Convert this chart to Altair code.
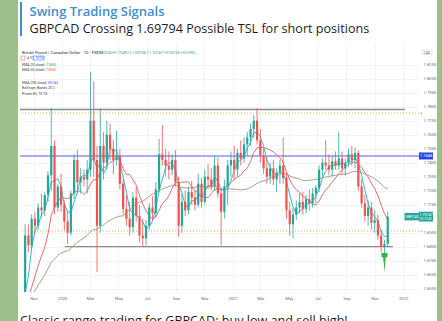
import altair as alt
import pandas as pd

# ---------------- data (weekly candles) ----------------
seed_weeks = ["2019-08-12", "2019-08-19", "2019-08-26", "2019-09-02", "2019-09-09",
              "2019-09-16", "2019-09-23", "2019-09-30"]
seed_closes = [1.6050, 1.6180, 1.6200, 1.6270, 1.6420, 1.6520, 1.6350, 1.6200]

week_start = [
    "2019-10-07", "2019-10-14", "2019-10-21", "2019-10-28", "2019-11-04", "2019-11-11", "2019-11-18", "2019-11-25",
    "2019-12-02", "2019-12-09", "2019-12-16", "2019-12-23", "2019-12-30",
    "2020-01-06", "2020-01-13", "2020-01-20", "2020-01-27", "2020-02-03", "2020-02-10", "2020-02-17", "2020-02-24",
    "2020-03-02", "2020-03-09", "2020-03-16", "2020-03-23", "2020-03-30", "2020-04-06", "2020-04-13", "2020-04-20",
    "2020-04-27", "2020-05-04", "2020-05-11", "2020-05-18", "2020-05-25", "2020-06-01", "2020-06-08", "2020-06-15",
    "2020-06-22", "2020-06-29", "2020-07-06", "2020-07-13", "2020-07-20", "2020-07-27", "2020-08-03", "2020-08-10",
    "2020-08-17", "2020-08-24", "2020-08-31", "2020-09-07", "2020-09-14", "2020-09-21", "2020-09-28", "2020-10-05",
    "2020-10-12", "2020-10-19", "2020-10-26", "2020-11-02", "2020-11-09", "2020-11-16", "2020-11-23", "2020-11-30",
    "2020-12-07", "2020-12-14", "2020-12-21", "2020-12-28",
    "2021-01-04", "2021-01-11", "2021-01-18", "2021-01-25", "2021-02-01", "2021-02-08", "2021-02-15", "2021-02-22",
    "2021-03-01", "2021-03-08", "2021-03-15", "2021-03-22", "2021-03-29", "2021-04-05", "2021-04-12", "2021-04-19",
    "2021-04-26", "2021-05-03", "2021-05-10", "2021-05-17", "2021-05-24", "2021-05-31", "2021-06-07", "2021-06-14",
    "2021-06-21", "2021-06-28", "2021-07-05", "2021-07-12", "2021-07-19", "2021-07-26", "2021-08-02", "2021-08-09",
    "2021-08-16", "2021-08-23", "2021-08-30", "2021-09-06", "2021-09-13", "2021-09-20", "2021-09-27", "2021-10-04",
    "2021-10-11", "2021-10-18", "2021-10-25", "2021-11-01", "2021-11-08", "2021-11-15", "2021-11-22", "2021-11-29",
]
opens = [
    1.6210, 1.6460, 1.6880, 1.6810, 1.7000, 1.6950, 1.7080, 1.7060,
    1.7170, 1.7310, 1.7520, 1.7080, 1.7230,
    1.7100, 1.6980, 1.6900, 1.7180, 1.7420, 1.7260, 1.7300, 1.7280,
    1.7350, 1.7700, 1.7420, 1.6950, 1.7520, 1.7400, 1.7600, 1.7500,
    1.7420, 1.7450, 1.7250, 1.7070, 1.7000, 1.6940, 1.7150, 1.7020,
    1.6880, 1.6860, 1.6950, 1.7080, 1.7040, 1.7210, 1.7460, 1.7420,
    1.7380, 1.7350, 1.7420, 1.7260, 1.6950, 1.7120, 1.7060, 1.7190,
    1.7150, 1.7100, 1.7250, 1.7120, 1.7300, 1.7280, 1.7230, 1.7380,
    1.7180, 1.7050, 1.7230, 1.7380,
    1.7420, 1.7350, 1.7470, 1.7430, 1.7530, 1.7580, 1.7640, 1.7700,
    1.7560, 1.7450, 1.7360, 1.7300, 1.7360, 1.7280, 1.7330, 1.7380,
    1.7290, 1.7060, 1.6960, 1.7030, 1.7080, 1.7120, 1.7070, 1.7140,
    1.7110, 1.7180, 1.7220, 1.7350, 1.7400, 1.7380, 1.7350, 1.7410,
    1.7380, 1.7430, 1.7360, 1.7400, 1.7460, 1.7420, 1.7470, 1.7230,
    1.7110, 1.7020, 1.7080, 1.6970, 1.6990, 1.6880, 1.6800, 1.6820,
]
highs = [
    1.6480, 1.6960, 1.6960, 1.7030, 1.7050, 1.7110, 1.7180, 1.7190,
    1.7340, 1.7790, 1.7560, 1.7250, 1.7320,
    1.7130, 1.7060, 1.7200, 1.7460, 1.7490, 1.7360, 1.7350, 1.7420,
    1.8050, 1.7980, 1.7520, 1.7790, 1.7620, 1.7700, 1.7680, 1.7560,
    1.7630, 1.7500, 1.7280, 1.7170, 1.7120, 1.7190, 1.7230, 1.7100,
    1.7000, 1.6990, 1.7110, 1.7160, 1.7260, 1.7570, 1.7670, 1.7500,
    1.7480, 1.7460, 1.7490, 1.7300, 1.7180, 1.7200, 1.7230, 1.7270,
    1.7200, 1.7320, 1.7290, 1.7350, 1.7390, 1.7360, 1.7450, 1.7440,
    1.7220, 1.7280, 1.7420, 1.7480,
    1.7520, 1.7500, 1.7560, 1.7580, 1.7620, 1.7680, 1.7740, 1.7790,
    1.7640, 1.7500, 1.7440, 1.7400, 1.7420, 1.7360, 1.7420, 1.7580,
    1.7330, 1.7120, 1.7080, 1.7130, 1.7180, 1.7190, 1.7170, 1.7210,
    1.7220, 1.7240, 1.7380, 1.7430, 1.7560, 1.7460, 1.7450, 1.7480,
    1.7620, 1.7480, 1.7430, 1.7500, 1.7520, 1.7510, 1.7490, 1.7280,
    1.7170, 1.7130, 1.7120, 1.7060, 1.7030, 1.6920, 1.6850, 1.7050,
]
lows = [
    1.6170, 1.6440, 1.6760, 1.6780, 1.6890, 1.6920, 1.7010, 1.7020,
    1.7120, 1.7200, 1.7030, 1.7050, 1.7050,
    1.6920, 1.6820, 1.6880, 1.7140, 1.7180, 1.7180, 1.7230, 1.7180,
    1.7300, 1.7300, 1.6620, 1.6900, 1.7280, 1.7350, 1.7420, 1.7320,
    1.7380, 1.7210, 1.7030, 1.6950, 1.6880, 1.6900, 1.6980, 1.6830,
    1.6800, 1.6810, 1.6920, 1.6990, 1.7010, 1.7190, 1.7380, 1.7300,
    1.7280, 1.7310, 1.7230, 1.6870, 1.6900, 1.7020, 1.7030, 1.7100,
    1.7060, 1.7080, 1.7080, 1.7100, 1.7210, 1.7200, 1.7200, 1.7150,
    1.6810, 1.7000, 1.7100, 1.7300,
    1.7280, 1.7300, 1.7380, 1.7400, 1.7450, 1.7520, 1.7580, 1.7530,
    1.7400, 1.7320, 1.7250, 1.7250, 1.7240, 1.7190, 1.7250, 1.7250,
    1.7000, 1.6880, 1.6860, 1.6990, 1.7040, 1.7030, 1.7040, 1.7060,
    1.7080, 1.7110, 1.7190, 1.7300, 1.7350, 1.7310, 1.7300, 1.7350,
    1.7350, 1.7320, 1.7310, 1.7370, 1.7380, 1.7360, 1.7200, 1.7080,
    1.6980, 1.6950, 1.6920, 1.6900, 1.6850, 1.6760, 1.6750, 1.6800,
]
closes = [
    1.6460, 1.6880, 1.6810, 1.7000, 1.6950, 1.7080, 1.7060, 1.7170,
    1.7310, 1.7520, 1.7080, 1.7230, 1.7100,
    1.6980, 1.6900, 1.7180, 1.7420, 1.7260, 1.7300, 1.7280, 1.7350,
    1.7700, 1.7420, 1.6950, 1.7520, 1.7400, 1.7600, 1.7500, 1.7420,
    1.7450, 1.7250, 1.7070, 1.7000, 1.6940, 1.7150, 1.7020, 1.6880,
    1.6860, 1.6950, 1.7080, 1.7040, 1.7210, 1.7460, 1.7420, 1.7380,
    1.7350, 1.7420, 1.7260, 1.6950, 1.7120, 1.7060, 1.7190, 1.7150,
    1.7100, 1.7250, 1.7120, 1.7300, 1.7280, 1.7230, 1.7380, 1.7180,
    1.7050, 1.7230, 1.7380, 1.7420,
    1.7350, 1.7470, 1.7430, 1.7530, 1.7580, 1.7640, 1.7700, 1.7560,
    1.7450, 1.7360, 1.7300, 1.7360, 1.7280, 1.7330, 1.7380, 1.7290,
    1.7060, 1.6960, 1.7030, 1.7080, 1.7120, 1.7070, 1.7140, 1.7110,
    1.7180, 1.7220, 1.7350, 1.7400, 1.7380, 1.7350, 1.7410, 1.7380,
    1.7430, 1.7360, 1.7400, 1.7460, 1.7420, 1.7470, 1.7230, 1.7110,
    1.7020, 1.7080, 1.6970, 1.6990, 1.6880, 1.6800, 1.6820, 1.7015,
]

# horizontal levels drawn on the chart
solid_prices = [1.7780, 1.7448, 1.6801]
solid_from = ["2019-10-03", "2019-10-03", "2020-01-07"]
solid_to = ["2022-01-05", "2022-02-04", "2021-12-10"]
solid_colors = ["#8a8a8a", "#8f8ff5", "#8a8a8a"]
dotted_prices = [1.7755, 1.6912]

# signal arrow under the November low
arrow_date = ["2021-11-22"]
arrow_price = [1.6687]

price_ticks = [1.65, 1.66, 1.67, 1.68, 1.69, 1.71, 1.72, 1.73, 1.74, 1.75,
               1.76, 1.77, 1.78, 1.79, 1.80, 1.81]
month_ticks = [(2019, 11), (2020, 1), (2020, 3), (2020, 5), (2020, 7), (2020, 9), (2020, 11),
               (2021, 1), (2021, 3), (2021, 5), (2021, 7), (2021, 9), (2021, 11), (2022, 1)]

TITLE = "Swing Trading Signals"
SUBTITLE = "GBPCAD Crossing 1.69794 Possible TSL for short positions"
CAPTION = "Classic range trading for GBPCAD: buy low and sell high!"
LAST_PRICE = 1.70147

# ---------------- build ----------------
n_seed = len(seed_weeks)
df = pd.DataFrame({
    "date": seed_weeks + week_start,
    "open": [None] * n_seed + opens,
    "high": [None] * n_seed + highs,
    "low": [None] * n_seed + lows,
    "close": seed_closes + closes,
})

FONT = "Open Sans"
UP, DOWN = "#26a69a", "#ef5350"

xscale = alt.Scale(type="utc", domain=[alt.DateTime(year=2019, month=10, date=3, utc=True),
                                       alt.DateTime(year=2022, month=2, date=4, utc=True)])
xaxis = alt.Axis(values=[alt.DateTime(year=y, month=m, date=1, utc=True) for y, m in month_ticks],
                 labelExpr="utcmonth(datum.value) == 0 ? utcFormat(datum.value, '%Y') : utcFormat(datum.value, '%b')",
                 title=None, domain=False, ticks=False, labelFontSize=4.2, labelColor="#6b6b6b",
                 labelPadding=4, grid=True, gridColor="#eef0f4", gridWidth=0.8, labelFont="Roboto")
yscale = alt.Scale(domain=[1.64764, 1.82550], nice=False, zero=False)
yaxis = alt.Axis(orient="right", values=price_ticks, format=".4f", title=None, domain=False,
                 ticks=False, labelFontSize=4.2, labelColor="#6b6b6b", labelPadding=4,
                 grid=True, gridColor="#eef0f4", gridWidth=0.8, labelFont="Roboto", labelAlign="left")


def X(field):
    return alt.X(field, type="temporal", scale=xscale, axis=xaxis)


def Y(field):
    return alt.Y(field, type="quantitative", scale=yscale, axis=yaxis)


base = alt.Chart(df)
candle_color = alt.condition("datum.close >= datum.open", alt.value(UP), alt.value(DOWN))

ma = base.transform_window(
    ma_fast="mean(close)", frame=[-3, 0], sort=[{"field": "date"}]
).transform_window(
    ma_mid="mean(close)", frame=[-9, 0], sort=[{"field": "date"}]
).transform_window(
    ma_slow="mean(close)", frame=[-39, 0], sort=[{"field": "date"}]
)
ma_slow = ma.mark_line(color="#a6a58a", strokeWidth=1, clip=True).encode(x=X("date"), y=Y("ma_slow"))
ma_mid = ma.mark_line(color="#e07070", strokeWidth=1, clip=True).encode(x=X("date"), y=Y("ma_mid"))
ma_fast = ma.mark_line(color="#45b6c4", strokeWidth=1, clip=True).encode(x=X("date"), y=Y("ma_fast"))

wicks = base.mark_rule(strokeWidth=0.8, clip=True).encode(x=X("date"), y=Y("low"), y2="high", color=candle_color)
bodies = base.mark_rule(strokeWidth=2.2, clip=True).encode(x=X("date"), y=Y("open"), y2="close", color=candle_color)

solid_df = pd.DataFrame({"p": solid_prices, "a": solid_from, "b": solid_to, "c": solid_colors})
solid = alt.Chart(solid_df).mark_rule(strokeWidth=1.3).encode(
    x=X("a"), x2="b", y=Y("p"), color=alt.Color("c:N", scale=None))
dot_df = pd.DataFrame({"p": dotted_prices})
dotted = alt.Chart(dot_df).mark_rule(strokeWidth=0.9, strokeDash=[1, 2], color="#f2a33a").encode(
    y=Y("p"))
dot_marks = alt.Chart(dot_df).mark_text(text="⌖", fontSize=5, color="#f2a33a").encode(
    x=alt.value(401), y=Y("p"))

one = pd.DataFrame({"k": [0]})


def txt(text, x, y, size, color, weight="normal", font=FONT, align="left", baseline="alphabetic"):
    return alt.Chart(one).mark_text(text=text, fontSize=size, color=color, fontWeight=weight, font=font,
                                    align=align, baseline=baseline).encode(x=alt.value(x), y=alt.value(y))


def box(x, y, w, h, fill, stroke=None):
    m = alt.Chart(one).mark_rect(fill=fill, stroke=stroke, strokeWidth=0.5 if stroke else 0)
    return m.encode(x=alt.value(x), x2=alt.value(x + w), y=alt.value(y), y2=alt.value(y + h))


# price-axis tags
blue_tag = alt.Chart(pd.DataFrame({"p": [solid_prices[1]]}))
blue_box = blue_tag.mark_point(shape="M-1,-0.5H1V0.5H-1Z", size=196, filled=True, opacity=1,
                               color="#2f3fe8").encode(x=alt.value(406), y=Y("p"))
blue_txt = blue_tag.mark_text(fontSize=4, color="white", font="Roboto").encode(
    x=alt.value(406), y=Y("p"), text=alt.Text("p:Q", format=".4f"))
last = alt.Chart(pd.DataFrame({"p": [LAST_PRICE]}))
last_box = last.mark_point(shape="M-1,-0.7H1V0.7H-1Z", size=196, filled=True, opacity=1,
                           color="#26a69a").encode(x=alt.value(406), y=Y("p"))
last_name = last.mark_point(shape="M-1,-0.5H1V0.5H-1Z", size=225, filled=True, opacity=1,
                            color="#26a69a").encode(x=alt.value(392), y=Y("p"))
last_txt = last.mark_text(fontSize=3.6, color="white", font="Roboto", dy=-1.6).encode(
    x=alt.value(406), y=Y("p"), text=alt.Text("p:Q", format=".5f"))
last_cd = last.mark_text(text="02:13:41", fontSize=3.2, color="white", font="Roboto", dy=2.4).encode(
    x=alt.value(406), y=Y("p"))
last_nm = last.mark_text(text="GBPCAD", fontSize=3.4, color="white", font="Roboto").encode(
    x=alt.value(392), y=Y("p"))

# arrow at the low: flat head on top, long taper downwards
arrow = alt.Chart(pd.DataFrame({"d": arrow_date, "p": arrow_price})).mark_point(
    shape="M-0.32,-1L0.32,-1L0.32,-0.62L0.13,-0.5L0,1L-0.13,-0.5L-0.32,-0.62Z",
    size=361, filled=True, opacity=1, color="#3cb043").encode(x=X("d"), y=Y("p"))

layers = [
    # page decoration
    box(-20, -43, 18, 321, "#9dc08b"), box(417, -43, 6, 321, "#9dc08b"),
    box(0, -41, 2, 34, "#3d8fd1"),
    txt(TITLE, 9.5, -27.5, 13, "#3d8fd1", weight=600),
    txt(SUBTITLE, 9.5, -10.5, 12.6, "#1e1e1e"),
    txt(CAPTION, 0, 281.5, 12.6, "#1e1e1e"),
    # chart
    solid, dotted, dot_marks,
    ma_slow, ma_mid, ma_fast,
    wicks, bodies,
    arrow,
    blue_box, blue_txt, last_name, last_box, last_txt, last_cd, last_nm,
    box(402, 7, 10, 4.5, "white", "#c8c8c8"), txt("CAD", 407, 10.5, 3.3, "#555", font="Roboto", align="center"),
    # legend (top-left)
    txt("British Pound / Canadian Dollar · 1D · FXCM", 2, 11, 4.2, "#333", font="Roboto"),
    txt("O1.70004 H1.70492 L1.69708 C1.70147 +0.00155 (+0.09%)", 75, 11, 3.8, "#26a69a", font="Roboto"),
    box(1, 13, 4, 4, "white", "#ef5350"), txt("4.9", 7, 16.4, 3.6, "#555", font="Roboto"),
    box(13, 13, 11, 4, "white", "#2962ff"), txt("1.70151", 18.5, 16.4, 3.4, "#2962ff", font="Roboto", align="center"),
    txt("EMA 20 close", 2, 22.5, 3.6, "#444", font="Roboto"), txt("1.71850", 23, 22.5, 3.6, "#26a69a", font="Roboto"),
    txt("EMA 50 close", 2, 27.5, 3.6, "#444", font="Roboto"), txt("1.75036", 23, 27.5, 3.6, "#ef5350", font="Roboto"),
    txt("EMA 200 close", 2, 40.5, 3.6, "#444", font="Roboto"), txt("1.69143", 25, 40.5, 3.6, "#2962ff", font="Roboto"),
    txt("Bollinger Bands 20 2", 2, 46, 3.6, "#444", font="Roboto"),
    txt("Pivots HL 10 10", 2, 52, 3.6, "#444", font="Roboto"),
]

chart = alt.layer(*layers).properties(
    width=399, height=249,
    padding={"left": 20, "top": 43, "right": 23, "bottom": 29},
    autosize=alt.AutoSizeParams(type="none"),
    background="white",
).configure_view(stroke=None)

chart.save("out.html", embed_options={"renderer": "svg", "actions": False})
